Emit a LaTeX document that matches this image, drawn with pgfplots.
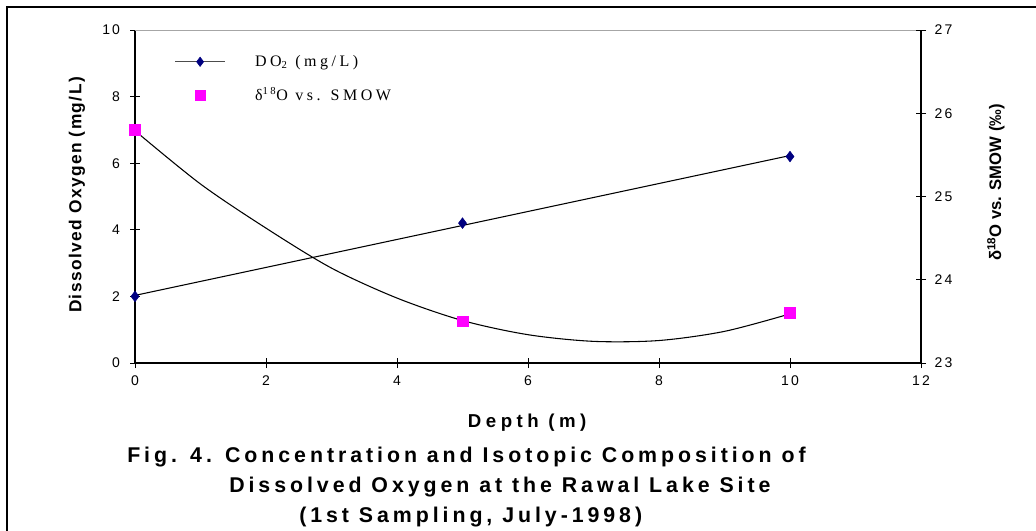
\documentclass[border=0pt]{standalone}
\usepackage{fontspec}
\setmainfont{Liberation Sans}
\newfontfamily\seriffont{Liberation Serif}
\usepackage{pgfplots}
\pgfplotsset{compat=1.18}
\definecolor{navy}{RGB}{0,0,128}
\definecolor{mag}{RGB}{255,0,255}
\newcommand{\ticksfont}{\fontsize{10.5}{12}\selectfont\addfontfeature{LetterSpace=15}}
\begin{document}
\begin{tikzpicture}
\useasboundingbox (0pt,0pt) rectangle (777pt,-398.25pt);
\draw[black, line width=1pt] (5.25pt,-398.25pt) -- (5.25pt,-5.25pt) -- (777pt,-5.25pt);
\begin{axis}[
  at={(101.25pt,-272.25pt)}, anchor=south west,
  scale only axis, width=589.5pt, height=249.75pt,
  xmin=0, xmax=12, ymin=0, ymax=10,
  xtick={0,2,...,12}, ytick={0,2,...,10},
  axis x line*=bottom, axis y line*=left,
  axis line style={black, line width=0.8pt, -},
  tick align=center, major tick length=7.5pt,
  tick style={black, line width=0.6pt},
  clip=false,
  /pgf/number format/assume math mode=true,
  tick label style={font=\ticksfont},
  yticklabel style={xshift=-4pt},
  xticklabel style={yshift=-2pt},
  every axis y label/.style={at={(rel axis cs:-0.0738,0.5045)}, rotate=90, anchor=center},
  every axis x label/.style={at={(rel axis cs:0.499,-0.180)}, anchor=center},
  ylabel={\fontsize{13}{15}\selectfont\bfseries\addfontfeature{LetterSpace=8}Dissolved Oxygen (mg/L)},
  xlabel={\fontsize{14}{16}\selectfont\bfseries\addfontfeature{LetterSpace=24}Depth (m)},
  legend style={draw=none, fill=none, at={(rel axis cs:0.05,0.933)}, anchor=north west,
    font=\seriffont\fontsize{12}{14}\selectfont\addfontfeature{LetterSpace=22},
    row sep=10.5pt, inner sep=0pt},
  legend cell align=left,
]
\draw[gray!70, line width=0.6pt] (rel axis cs:0,1) -- (rel axis cs:1,1);
\addlegendimage{legend image code/.code={
  \path[draw=none] (0pt,0pt) -- (58pt,0pt);
  \draw[black!70, line width=0.8pt] (0pt,0pt) -- (37.5pt,0pt);
  \draw[navy, fill=navy] plot[mark=diamond*, mark size=3.5pt] coordinates {(18.75pt,0pt)};}}
\addlegendentry{DO\textsubscript{2} (mg/L)}
\addlegendimage{legend image code/.code={
  \path[draw=none] (0pt,0pt) -- (53pt,0pt);
  \draw[mag, fill=mag] plot[mark=square*, mark size=4pt] coordinates {(18.75pt,0pt)};}}
\addlegendentry{δ\textsuperscript{18}O vs. SMOW}
% linear trend of DO
\addplot[black, line width=0.8pt, forget plot] coordinates {(0,2.03) (10,6.23)};
% DO data
\addplot[only marks, mark=diamond*, mark size=4pt, navy, mark options={fill=navy, draw=navy}, forget plot]
  coordinates {(0,2.0) (5,4.2) (10,6.2)};
\end{axis}
\begin{axis}[
  at={(101.25pt,-272.25pt)}, anchor=south west,
  scale only axis, width=589.5pt, height=249.75pt,
  xmin=0, xmax=12, ymin=23, ymax=27,
  ytick={23,24,...,27},
  axis x line=none, axis y line*=right,
  axis line style={black, line width=0.8pt, -},
  tick align=center, major tick length=7.5pt,
  tick style={black, line width=0.6pt},
  clip=false,
  /pgf/number format/assume math mode=true,
  tick label style={font=\ticksfont},
  yticklabel style={xshift=3pt},
  every axis y label/.style={at={(rel axis cs:1.0954,0.542)}, rotate=90, anchor=center},
  ylabel={\fontsize{12.5}{14}\selectfont\bfseries δ\textsuperscript{18}O vs. SMOW (‰)},
]
% smooth trend curve of delta-18O
\addplot[black, line width=0.8pt, smooth] coordinates {
 (0,25.79) (1,25.15) (2,24.62) (3,24.14) (4,23.78) (5,23.51)
 (6,23.34) (7,23.26) (8,23.27) (9,23.38) (10,23.59)};
% delta-18O data
\addplot[only marks, mark=square*, mark size=4pt, mag, mark options={fill=mag, draw=mag}]
  coordinates {(0,25.8) (5,23.5) (10,23.6)};
\end{axis}
\node[anchor=west, inner sep=0pt, font=\fontsize{16}{18}\selectfont\bfseries\addfontfeature{LetterSpace=18.5}]
  at (95.25pt,-342.75pt) {Fig. 4. Concentration and Isotopic Composition of};
\node[anchor=west, inner sep=0pt, font=\fontsize{16}{18}\selectfont\bfseries\addfontfeature{LetterSpace=18.5}]
  at (171.75pt,-365.25pt) {Dissolved Oxygen at the Rawal Lake Site};
\node[anchor=west, inner sep=0pt, font=\fontsize{16}{18}\selectfont\bfseries\addfontfeature{LetterSpace=18.5}]
  at (224.25pt,-387.75pt) {(1st Sampling, July-1998)};
\end{tikzpicture}
\end{document}
